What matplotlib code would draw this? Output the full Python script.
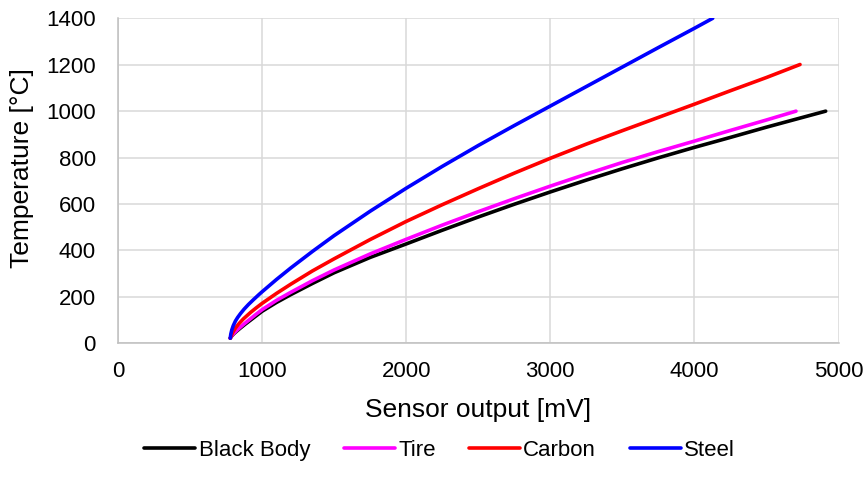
import matplotlib
matplotlib.use("Agg")
import matplotlib.pyplot as plt

plt.rcParams['font.family'] = ['Liberation Sans', 'DejaVu Sans']

# values (sensor output mV -> temperature °C)
black_mv = [779, 790, 805, 825, 850, 880, 920, 960, 1000, 1100, 1200, 1350, 1500, 1750,
            2000, 2250, 2500, 2750, 3000, 3250, 3500, 3750, 4000, 4250, 4500, 4750, 4911]
black_t = [22, 32, 42, 53, 66, 81, 100, 119, 138, 176, 210, 258, 304, 370,
           428, 487, 544, 599, 652, 703, 752, 799, 844, 887, 931, 973, 1000]

tire_mv = [779, 790, 805, 825, 850, 880, 920, 960, 1000, 1100, 1200, 1350, 1500, 1750,
           2000, 2250, 2500, 2750, 3000, 3250, 3500, 3750, 4000, 4250, 4500, 4705]
tire_t = [22, 33, 44, 56, 70, 86, 106, 126, 145, 185, 220, 270, 316, 385,
          448, 509, 567, 623, 677, 729, 779, 826, 871, 917, 962, 1000]

carbon_mv = [779, 795, 815, 840, 870, 920, 960, 1000, 1100, 1200, 1350, 1500, 1750, 2000,
             2250, 2500, 2750, 3000, 3250, 3500, 3750, 4000, 4250, 4500, 4733]
carbon_t = [22, 45, 66, 85, 105, 133, 153, 172, 215, 255, 312, 364, 447, 525,
            597, 666, 733, 797, 858, 916, 973, 1030, 1088, 1145, 1201]

steel_mv = [779, 783, 790, 800, 815, 830, 850, 875, 905, 940, 980, 1000, 1100, 1200,
            1350, 1500, 1750, 2000, 2250, 2500, 2750, 3000, 3250, 3500, 3750, 4000, 4127]
steel_t = [22, 40, 58, 76, 96, 111, 128, 147, 167, 188, 211, 222, 275, 325,
           396, 464, 569, 668, 762, 852, 938, 1022, 1106, 1190, 1274, 1357, 1400]

series = [
    ("Black Body", black_mv, black_t, "#000000"),
    ("Tire", tire_mv, tire_t, "#FF00FF"),
    ("Carbon", carbon_mv, carbon_t, "#FF0000"),
    ("Steel", steel_mv, steel_t, "#0000FF"),
]

fig = plt.figure(figsize=(8.67, 4.94), dpi=100)
ax = fig.add_axes([118 / 867, 1 - 343.3 / 494, 720.5 / 867, 325 / 494])

for name, xs, ys, col in series:
    ax.plot(xs, ys, color=col, lw=2.6, label=name,
            solid_capstyle='round', solid_joinstyle='round')

ax.set_xlim(0, 5000)
ax.set_ylim(0, 1400)
ax.set_xticks(range(0, 5001, 1000))
ax.set_yticks(range(0, 1401, 200))
ax.grid(True, color='#D9D9D9', lw=1.1)
ax.set_axisbelow(True)
for s in ['top', 'right']:
    ax.spines[s].set_visible(False)
for s in ['left', 'bottom']:
    ax.spines[s].set_color('#BFBFBF')
    ax.spines[s].set_linewidth(1.1)
ax.tick_params(length=0, labelsize=16, colors='black')
ax.tick_params(axis='y', pad=16)
ax.tick_params(axis='x', pad=13)

ax.set_xlabel("Sensor output [mV]", fontsize=19, labelpad=11)
ax.set_ylabel("Temperature [°C]", fontsize=19)
ax.yaxis.set_label_coords((34 - 118) / 720.5, 0.54)

fig.legend(loc='center', bbox_to_anchor=(0.507, 0.089), ncol=4, frameon=False,
           fontsize=16, handlelength=2.3, handletextpad=0.15, columnspacing=1.5)

fig.savefig("out.png", dpi=100)
